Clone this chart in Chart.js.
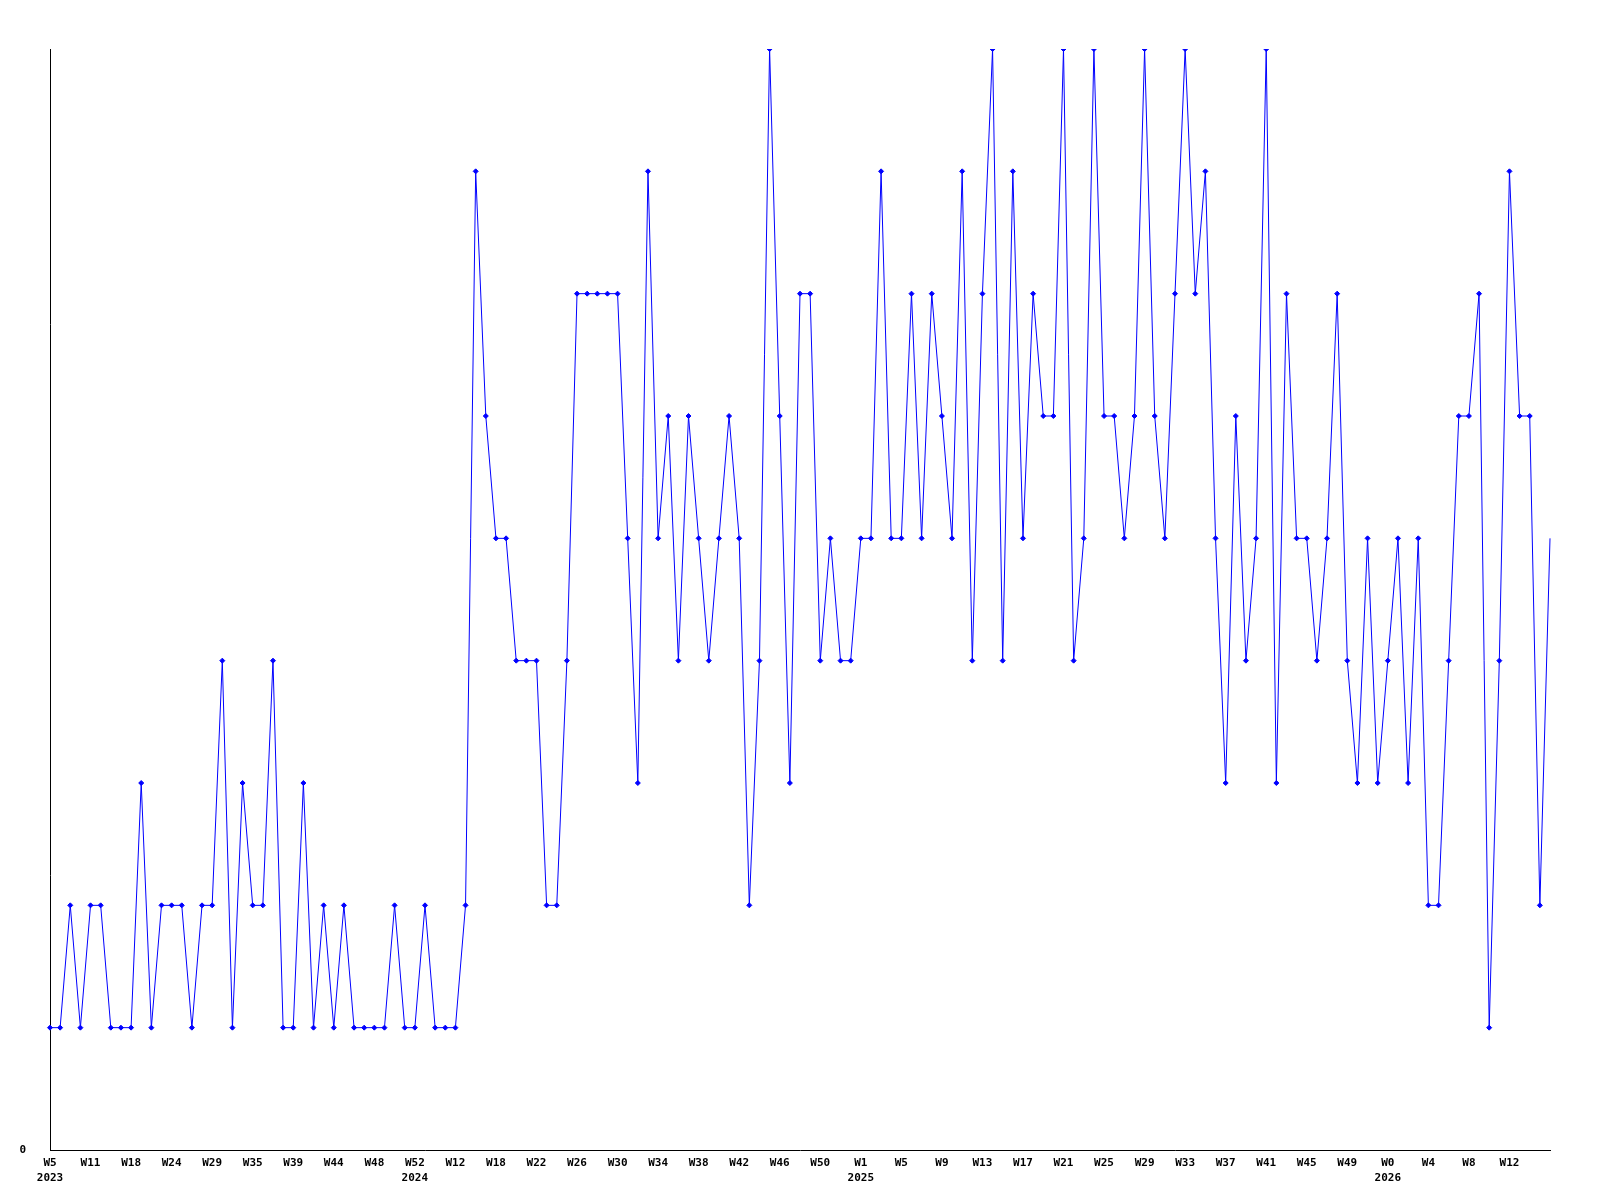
<!DOCTYPE html>
<html lang="en">
  <head>
    <meta charset="UTF-8">
    <script src="https://cdn.jsdelivr.net/npm/chart.js"></script>
    <style>
      body { margin: 0; background: #fff; }
      #weekChart { display: block; }
    </style>
  </head>
  <body>
    <canvas id="weekChart" width="1600" height="1200"></canvas>

    <script>
      // one value per sample, oldest first
      const counts = [
        1, 1, 2, 1, 2, 2, 1, 1, 1, 3,
        1, 2, 2, 2, 1, 2, 2, 4, 1, 3,
        2, 2, 4, 1, 1, 3, 1, 2, 1, 2,
        1, 1, 1, 1, 2, 1, 1, 2, 1, 1,
        1, 2, 8, 6, 5, 5, 4, 4, 4, 2,
        2, 4, 7, 7, 7, 7, 7, 5, 3, 8,
        5, 6, 4, 6, 5, 4, 5, 6, 5, 2,
        4, 9, 6, 3, 7, 7, 4, 5, 4, 4,
        5, 5, 8, 5, 5, 7, 5, 7, 6, 5,
        8, 4, 7, 9, 4, 8, 5, 7, 6, 6,
        9, 4, 5, 9, 6, 6, 5, 6, 9, 6,
        5, 7, 9, 7, 8, 5, 3, 6, 4, 5,
        9, 3, 7, 5, 5, 4, 5, 7, 4, 3,
        5, 3, 4, 5, 3, 5, 2, 2, 4, 6,
        6, 7, 1, 4, 8, 6, 6, 2, 5
      ];

      // labels shown on every 4th sample
      const tickWeeks = [
        'W5', 'W11', 'W18', 'W24', 'W29', 'W35', 'W39', 'W44', 'W48', 'W52',
        'W12', 'W18', 'W22', 'W26', 'W30', 'W34', 'W38', 'W42', 'W46', 'W50',
        'W1', 'W5', 'W9', 'W13', 'W17', 'W21', 'W25', 'W29', 'W33', 'W37',
        'W41', 'W45', 'W49', 'W0', 'W4', 'W8', 'W12'
      ];
      const tickEvery = 4;

      // year printed under a week tick (index into tickWeeks)
      const yearTicks = [0, 9, 20, 33];
      const years = ['2023', '2024', '2025', '2026'];

      const labels = counts.map(function (v, i) {
        if (i % tickEvery !== 0) return '';
        const t = i / tickEvery;
        const w = tickWeeks[t] || '';
        const y = yearTicks.indexOf(t);
        return y >= 0 ? [w, years[y]] : w;
      });

      const tickFont = { family: 'DejaVu Sans Mono', size: 11, weight: 'bold', lineHeight: 1.36 };

      new Chart(document.getElementById('weekChart'), {
        type: 'line',
        data: {
          labels: labels,
          datasets: [{
            data: counts,
            borderColor: '#0000ff',
            backgroundColor: '#0000ff',
            borderWidth: 1,
            tension: 0,
            pointStyle: 'rectRot',
            pointRadius: function (ctx) {
              return ctx.dataIndex === counts.length - 1 ? 0 : 2.5;
            },
            pointBorderWidth: 1,
            pointBorderColor: '#0000ff',
            pointBackgroundColor: '#0000ff'
          }]
        },
        options: {
          responsive: false,
          animation: false,
          layout: { padding: { top: 49, right: 50, bottom: 0, left: 0 } },
          plugins: {
            legend: { display: false },
            tooltip: { enabled: false }
          },
          scales: {
            x: {
              offset: false,
              grid: { display: false, drawTicks: false },
              border: { display: true, color: '#000', width: 1 },
              ticks: {
                autoSkip: false,
                maxRotation: 0,
                minRotation: 0,
                padding: 6,
                color: '#000',
                font: tickFont
              },
              afterFit: function (scale) { scale.height = 50; }
            },
            y: {
              min: 0,
              max: 9,
              grid: { display: false, drawTicks: false },
              border: { display: true, color: '#000', width: 1 },
              ticks: {
                stepSize: 1,
                padding: 24,
                color: '#000',
                font: tickFont,
                callback: function (value) { return value === 0 ? '0' : ''; }
              },
              afterFit: function (scale) { scale.width = 50; }
            }
          }
        }
      });
    </script>
  </body>
</html>
